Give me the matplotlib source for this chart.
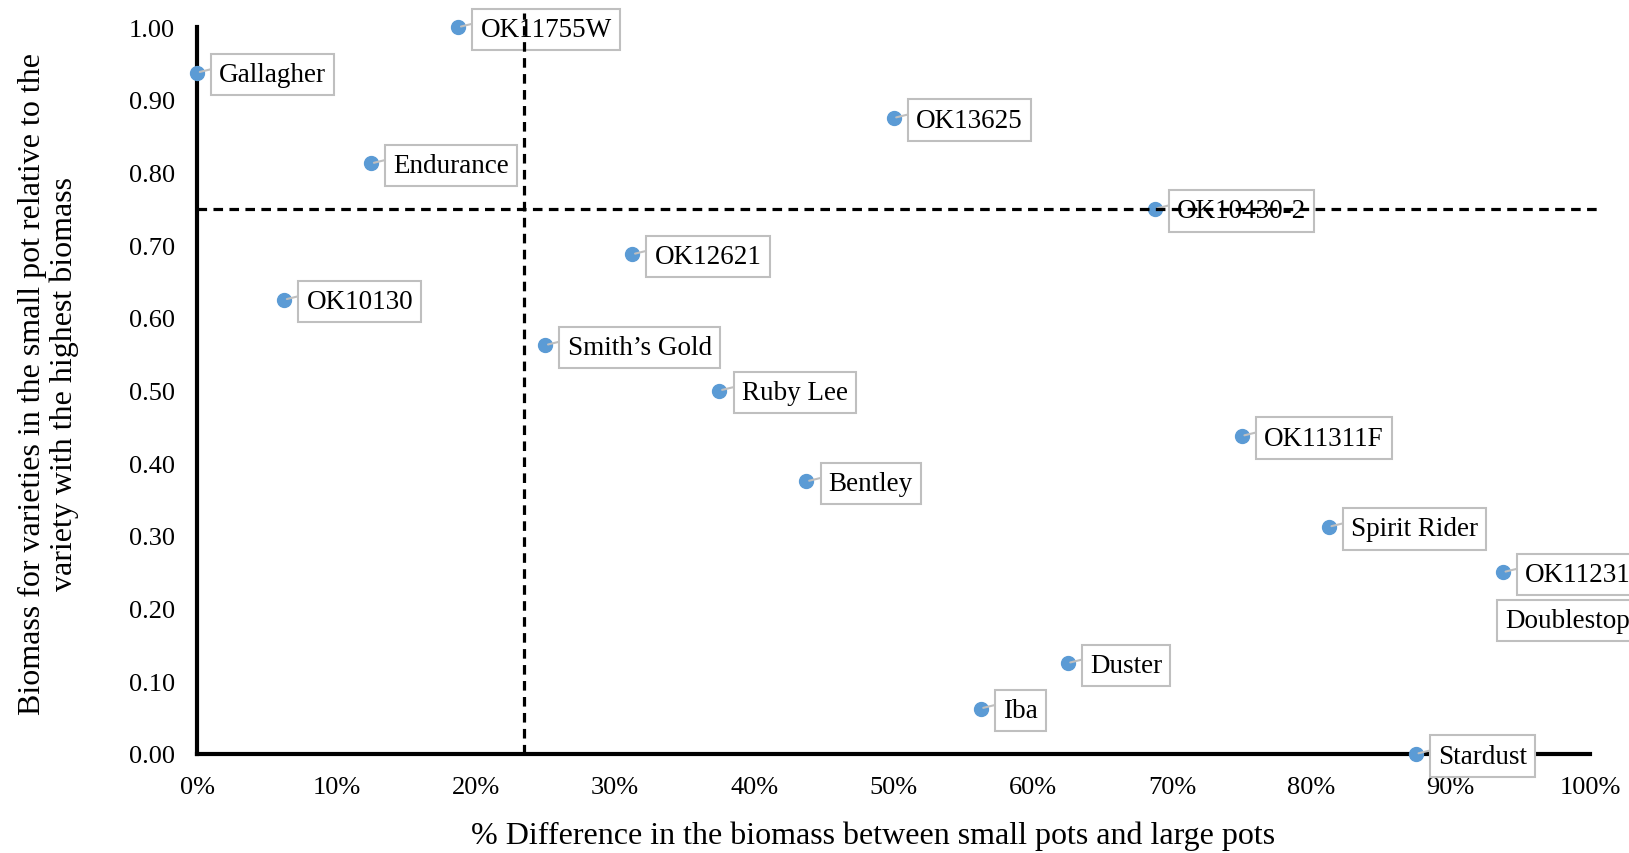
import numpy as np
import matplotlib
matplotlib.use("Agg")
import matplotlib.pyplot as plt
from matplotlib.ticker import PercentFormatter, FormatStrFormatter

plt.rcParams['font.family'] = ['Liberation Serif', 'DejaVu Serif']

# varieties, % difference small vs large pots, relative biomass in small pot
names = ["OK11755W", "Gallagher", "OK13625", "Endurance", "OK10430-2", "OK12621",
         "OK10130", "Smith\u2019s Gold", "Ruby Lee", "OK11311F", "Bentley",
         "Spirit Rider", "OK11231", "Doublestop", "Duster", "Iba", "Stardust"]
pct_diff = [0.1875, 0.0, 0.50, 0.125, 0.6875, 0.3125,
            0.0625, 0.25, 0.375, 0.75, 0.4375,
            0.8125, 0.9375, 1.0, 0.625, 0.5625, 0.875]
rel_biomass = [1.0, 0.9375, 0.875, 0.8125, 0.75, 0.6875,
               0.625, 0.5625, 0.5, 0.4375, 0.375,
               0.3125, 0.25, 0.1875, 0.125, 0.0625, 0.0]

x_cut = 0.235
y_cut = 0.75

fig = plt.figure(figsize=(16.29, 8.54), dpi=100)
ax = fig.add_axes([0.121, 0.116, 0.855, 0.851])

ax.scatter(pct_diff, rel_biomass, s=100, color="#5b9bd5", zorder=3, clip_on=False)

box = dict(boxstyle="square,pad=0.3", fc="white", ec="#bfbfbf", lw=1.5)
for name, x, y in zip(names, pct_diff, rel_biomass):
    if name == "Doublestop":
        ax.annotate(name, (x, y), xytext=(-61, -2), textcoords="offset points",
                    ha="left", va="center", fontsize=19.5, bbox=box, zorder=4)
    else:
        ax.annotate(name, (x, y), xytext=(16, -1.5), textcoords="offset points",
                    ha="left", va="center", fontsize=19.5, bbox=box, zorder=4,
                    arrowprops=dict(arrowstyle="-", color="#bfbfbf", lw=1.5,
                                    shrinkA=0, shrinkB=2, relpos=(0, 0.8)))

# threshold lines
ax.plot([x_cut, x_cut], [0, 1.02], color="black", lw=2.3, ls=(0, (3, 2)),
        zorder=5, clip_on=False)
ax.plot([0, 1.008], [y_cut, y_cut], color="black", lw=2.3, ls=(0, (3, 2)),
        zorder=5, clip_on=False)

ax.set_xlim(0, 1)
ax.set_ylim(0, 1)
ax.set_xticks(np.arange(0, 1.01, 0.1))
ax.set_yticks(np.arange(0, 1.01, 0.1))
ax.xaxis.set_major_formatter(PercentFormatter(1.0, decimals=0))
ax.yaxis.set_major_formatter(FormatStrFormatter('%.2f'))
ax.tick_params(axis="both", length=0, labelsize=19)
ax.tick_params(axis="y", pad=16)
ax.tick_params(axis="x", pad=16)

for side in ["top", "right"]:
    ax.spines[side].set_visible(False)
for side in ["left", "bottom"]:
    ax.spines[side].set_linewidth(3)
    ax.spines[side].set_zorder(2)

ax.set_xlabel("% Difference in the biomass between small pots and large pots",
              fontsize=23, labelpad=16)
ax.set_ylabel("Biomass for varieties in the small pot relative to the\n"
              "variety with the highest biomass", fontsize=23, labelpad=34,
              linespacing=1.1)
ax.xaxis.set_label_coords(0.485, -0.092)
ax.yaxis.set_label_coords(-0.085, 0.511)

fig.savefig("out.png", dpi=100)
